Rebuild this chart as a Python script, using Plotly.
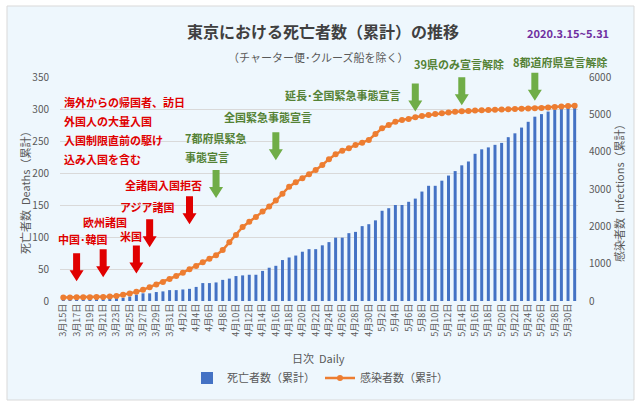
import plotly.graph_objects as go

# ---------------- data ----------------
dates = ([f"3月{d}日" for d in range(15, 32)] +
         [f"4月{d}日" for d in range(1, 31)] +
         [f"5月{d}日" for d in range(1, 32)])

deaths = [2, 2, 2, 2, 2, 3, 3, 4, 5, 5,
          7, 10, 12, 12, 14, 15, 17, 17, 18, 19,
          22,
          28, 28, 29, 33, 35, 39, 40, 41, 41, 47,
          52, 55, 64, 68, 71, 77, 81, 81, 87, 92,
          99, 99, 106, 108, 117, 120, 126, 141, 145, 150,
          150, 155, 160, 171, 180, 180, 188, 196, 203, 212,
          218, 230, 237, 240, 244, 247, 256, 262, 271, 280,
          288, 292, 296, 299, 302, 304, 305]

infections = [95, 97, 99, 101, 103, 106, 110, 118, 135, 165,
              200, 245, 300, 370, 440, 510, 590, 670, 760, 850,
              940, 1040, 1135, 1225, 1366, 1575, 1768, 1985, 2120, 2250,
              2394, 2528, 2690, 2876, 3063, 3180, 3287, 3393, 3509, 3643,
              3800, 3929, 4027, 4089, 4179, 4241, 4312, 4473, 4625, 4714,
              4804, 4848, 4875, 4920, 4955, 4982, 5009, 5030, 5050, 5068,
              5080, 5090, 5100, 5108, 5115, 5122, 5128, 5135, 5140, 5148,
              5155, 5163, 5172, 5183, 5196, 5208, 5220, 5232]

tick_labels = dates[::2]
left_ticks = [0, 50, 100, 150, 200, 250, 300, 350]
right_ticks = [0, 1000, 2000, 3000, 4000, 5000, 6000]

# event arrows: (date index, tip value on deaths axis)
red_events = [(2, 31), (6, 37), (11, 43), (13, 84), (19, 120)]
green_events = [(23, 161), (32, 220), (53, 296), (60, 306), (71, 313)]

FONT = "Noto Sans CJK JP, Noto Sans, sans-serif"
BLUE = "#4472C4"
ORANGE = "#ED7D31"
RED = "#E00000"
GREEN_ARROW = "#70AD47"
GREEN_TEXT = "#548235"
GRAY = "#595959"

W, H = 640, 406
L, R, T, B = 60, 578, 77, 301
N = len(dates)


def PX(x):
    return (x - L) / (R - L)


def PY(y):
    return (B - y) / (B - T)


fig = go.Figure()
fig.add_trace(go.Bar(x=dates, y=deaths, name="死亡者数（累計）",
                     marker=dict(color=BLUE, line=dict(width=0)),
                     yaxis="y"))
fig.add_trace(go.Scatter(x=dates, y=infections, name="感染者数（累計）",
                         mode="lines+markers",
                         line=dict(color=ORANGE, width=2.5),
                         marker=dict(color=ORANGE, size=6),
                         yaxis="y2"))

shapes = []
# background card
shapes.append(dict(type="rect", xref="paper", yref="paper",
                   x0=PX(7), x1=PX(634), y0=PY(400), y1=PY(6),
                   fillcolor="#EEF7FD", line=dict(color="#D9D9D9", width=1),
                   layer="below"))


def arrow(idx, val, color):
    xa = (idx + 0.5) / N
    ya = val / 350.0
    return dict(type="path", xref="paper", yref="paper",
                xsizemode="pixel", ysizemode="pixel",
                xanchor=xa, yanchor=ya,
                path="M 0,0 L -7,11 L -3.5,11 L -3.5,28 L 3.5,28 L 3.5,11 L 7,11 Z",
                fillcolor=color, line=dict(width=0), layer="above")


for i, v in red_events:
    shapes.append(arrow(i, v, RED))
for i, v in green_events:
    shapes.append(arrow(i, v, GREEN_ARROW))

ann = []


def text(x, y, s, color, size=11, bold=True, xanchor="center", angle=0):
    ann.append(dict(x=PX(x), y=PY(y), xref="paper", yref="paper",
                    text=f"<b>{s}</b>" if bold else s, showarrow=False,
                    xanchor=xanchor, yanchor="middle", textangle=angle,
                    font=dict(family=FONT, size=size, color=color)))


# titles
text(323, 31, "東京における死亡者数（累計）の推移", "#404040", size=16)
text(568, 33, "2020.3.15~5.31", "#7030A0", size=11)
text(318, 57, "（チャーター便･クルーズ船を除く）", GRAY, size=11, bold=False)

# red notes
for y, s in [(101.7, "海外からの帰国者、訪日"), (120.7, "外国人の大量入国"),
             (140, "入国制限直前の駆け"), (158.7, "込み入国を含む")]:
    text(62, y, s, RED, xanchor="left")
text(82.5, 239, "中国･韓国", RED)
text(104.5, 222, "欧州諸国", RED)
text(131, 236, "米国", RED)
text(147.5, 207, "アジア諸国", RED)
text(163.5, 185, "全諸国入国拒否", RED)

# green notes
text(183, 138, "7都府県緊急", GREEN_TEXT, xanchor="left")
text(183, 157, "事態宣言", GREEN_TEXT, xanchor="left")
text(268, 117, "全国緊急事態宣言", GREEN_TEXT)
text(343, 95, "延長･全国緊急事態宣言", GREEN_TEXT)
text(459, 64, "39県のみ宣言解除", GREEN_TEXT)
text(560, 62, "8都道府県宣言解除", GREEN_TEXT)

# axis titles
text(318, 358, "日次  Daily", GRAY, size=11, bold=False)
text(25, 190, "死亡者数  Deaths（累計）", GRAY, size=11, bold=False, angle=-90)
text(619, 190, "感染者数  Infections（累計）", GRAY, size=11, bold=False, angle=-90)

fig.update_layout(
    width=W, height=H,
    margin=dict(l=L, r=W - R, t=T, b=H - B, pad=0),
    paper_bgcolor="white",
    plot_bgcolor="rgba(0,0,0,0)",
    font=dict(family=FONT, size=10, color=GRAY),
    bargap=0.55,
    showlegend=True,
    legend=dict(orientation="h", x=PX(320), xanchor="center",
                y=PY(378), yanchor="middle",
                font=dict(family=FONT, size=11, color=GRAY),
                bgcolor="rgba(0,0,0,0)", itemwidth=30),
    xaxis=dict(type="category", range=[-0.5, N - 0.5],
               tickmode="array", tickvals=tick_labels, ticktext=tick_labels,
               tickangle=-90, tickfont=dict(size=9, color=GRAY),
               showgrid=False, showline=False, ticks="", zeroline=False),
    yaxis=dict(range=[0, 350], tickvals=left_ticks,
               showgrid=True, gridcolor="#D9D9D9", gridwidth=1,
               zeroline=False, showline=False, ticks="",
               tickfont=dict(size=10, color=GRAY), ticklabelstandoff=10),
    yaxis2=dict(range=[0, 6000], tickvals=right_ticks, overlaying="y",
                side="right", showgrid=False, zeroline=False, showline=False,
                ticks="", tickfont=dict(size=10, color=GRAY),
                ticklabelstandoff=10),
    shapes=shapes,
    annotations=ann,
)

fig.write_html("out.html")
